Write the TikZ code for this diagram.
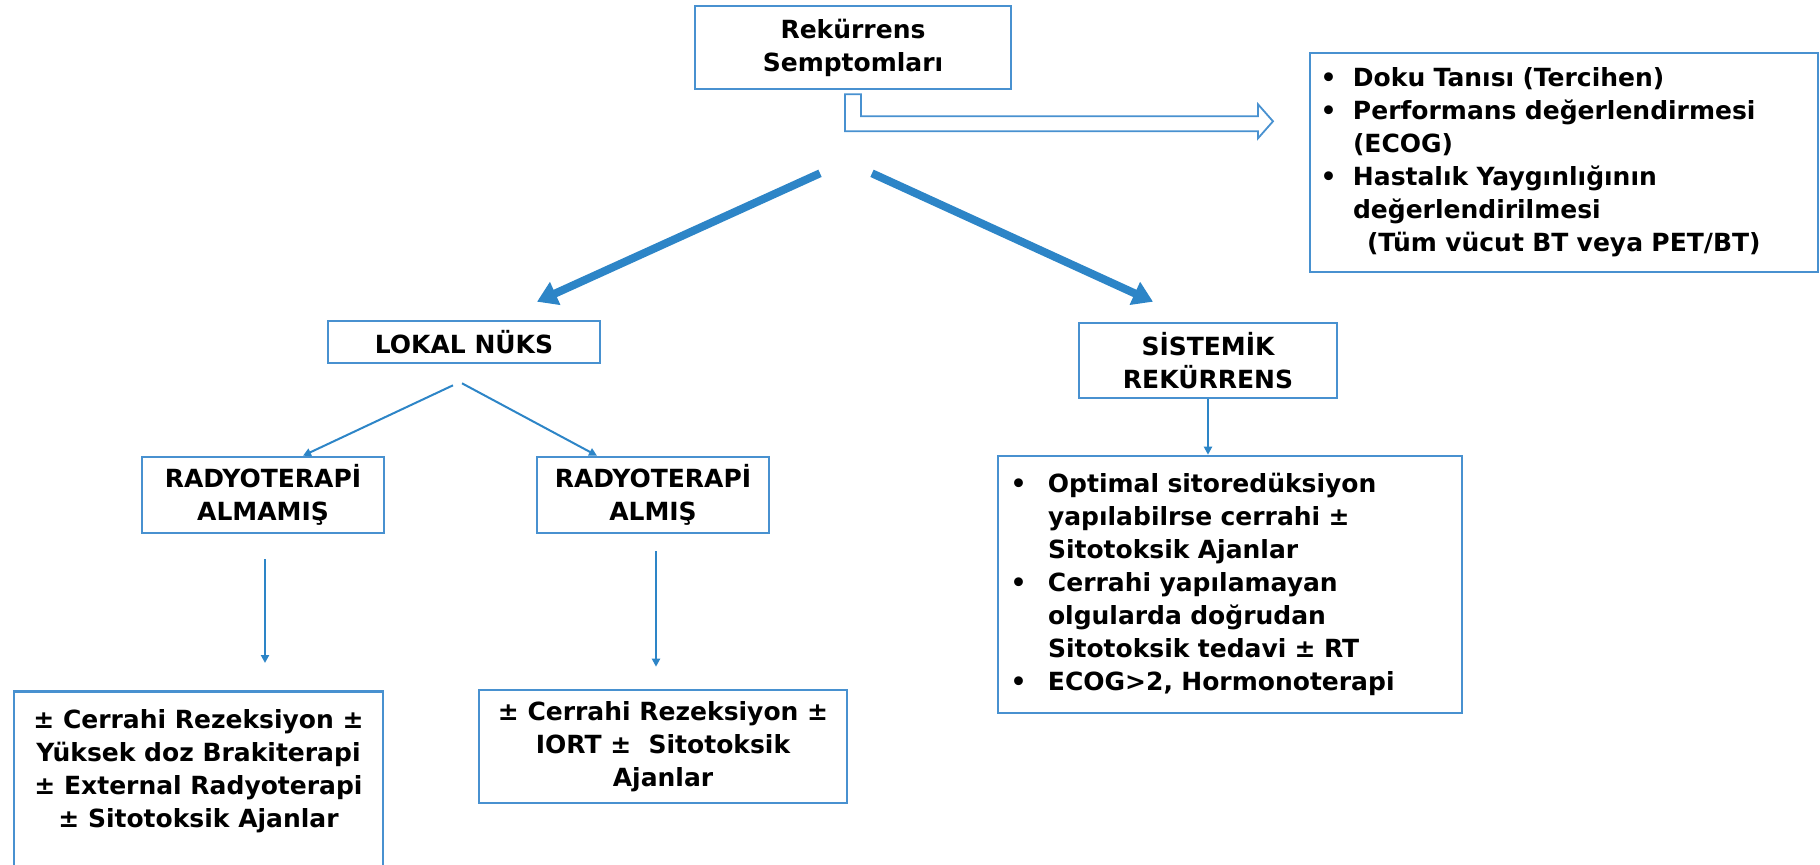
\documentclass[tikz,border=0pt]{standalone}
\usepackage{fontspec}
\setmainfont{DejaVu Sans}
\usetikzlibrary{arrows.meta}
\definecolor{boxblue}{RGB}{72,145,208}
\definecolor{arrowblue}{RGB}{45,133,199}
\newcommand\blt[1]{\makebox[#1][l]{•}}
\newcommand\hng[1]{\hspace*{#1}}

\begin{document}
\begin{tikzpicture}[x=0.5pt,y=-0.5pt,
  every node/.style={font=\fontsize{12.5pt}{16.5pt}\selectfont\bfseries},
  box/.style={draw=boxblue,line width=1.3pt,fill=white,inner sep=0pt,align=center},
  list/.style={box,align=left},
  bigarrow/.style={draw=arrowblue,line width=4pt,-{Triangle[length=10pt,width=12pt]}},
  smallarrow/.style={draw=arrowblue,line width=1pt,-{Triangle[length=4pt,width=4pt]}}]

	\useasboundingbox (0,0) rectangle (1820,864);

	\node[box,minimum width=158pt,minimum height=41.5pt] (top) at (853,47.5) {Rekürrens\\Semptomları};
	\node[list,inner xsep=5.3pt,text width=243.4pt,minimum height=109.5pt] (info) at (1564,162.5)
		{\blt{16.2pt}Doku Tanısı (Tercihen)\\
		 \blt{16.2pt}Performans değerlendirmesi\\
		 \hng{16.2pt}(ECOG)\\
		 \blt{16.2pt}Hastalık Yaygınlığının\\
		 \hng{16.2pt}değerlendirilmesi\\
		 \hng{23.2pt}(Tüm vücut BT veya PET/BT)};

	\node[box,minimum width=136pt,minimum height=21pt] (lokal) at (464,342) {LOKAL NÜKS};
	\node[box,minimum width=129pt,minimum height=37.5pt] (sistemik) at (1208,360.5) {SİSTEMİK\\REKÜRRENS};

	\node[box,minimum width=121pt,minimum height=38pt] (almamis) at (263,495) {RADYOTERAPİ\\ALMAMIŞ};
	\node[box,minimum width=116pt,minimum height=38pt] (almis) at (653,495) {RADYOTERAPİ\\ALMIŞ};

	\node[box,anchor=north,inner ysep=9pt] (tedyok) at (198.5,690)
		{\parbox[t][100pt][t]{184.5pt}{\centering ± Cerrahi Rezeksiyon ±\\
		 Yüksek doz Brakiterapi\\ ± External Radyoterapi\\ ± Sitotoksik Ajanlar}};
	\node[box,minimum width=184pt,minimum height=56.5pt] (tedvar) at (663,746.5)
		{± Cerrahi Rezeksiyon ±\\IORT ±\ \ Sitotoksik\\Ajanlar};
	\node[list,inner xsep=6.3pt,text width=219.4pt,minimum height=128.5pt] (tedsis) at (1230,584.5)
		{\blt{18.7pt}Optimal sitoredüksiyon\\
		 \hng{18.7pt}yapılabilrse cerrahi ±\\
		 \hng{18.7pt}Sitotoksik Ajanlar\\
		 \blt{18.7pt}Cerrahi yapılamayan\\
		 \hng{18.7pt}olgularda doğrudan\\
		 \hng{18.7pt}Sitotoksik tedavi ± RT\\
		 \blt{18.7pt}ECOG>2, Hormonoterapi};

	% hollow arrow to the work-up box
	\draw[draw=boxblue,line width=0.9pt,fill=white,line join=miter]
		([xshift=-4pt,yshift=-2pt]top.south) -- ++(16,0) -- ++(0,22) -- ++(397,0) -- ++(0,-12)
		-- ++(15,17) -- ++(-15,17) -- ++(0,-7) -- ++(-413,0) -- cycle;

	\draw[bigarrow] ([xshift=-16.5pt,yshift=-41.5pt]top.south) -- ([xshift=36.5pt,yshift=9pt]lokal.north);
	\draw[bigarrow] ([xshift=9.5pt,yshift=-41.5pt]top.south) -- ([xshift=-27.5pt,yshift=10pt]sistemik.north);

	\draw[smallarrow] ([xshift=-5.5pt,yshift=-10.5pt]lokal.south) -- ([xshift=20pt]almamis.north);
	\draw[smallarrow] ([xshift=-1pt,yshift=-9.5pt]lokal.south) -- ([xshift=-28pt]almis.north);

	\draw[smallarrow] ([xshift=1pt,yshift=-12.5pt]almamis.south) -- ([xshift=33.25pt,yshift=13.5pt]tedyok.north);
	\draw[smallarrow] ([xshift=1.5pt,yshift=-8.5pt]almis.south) -- ([xshift=-3.5pt,yshift=11pt]tedvar.north);
	\draw[smallarrow] (sistemik.south) -- (sistemik.south |- tedsis.north);
\end{tikzpicture}
\end{document}
